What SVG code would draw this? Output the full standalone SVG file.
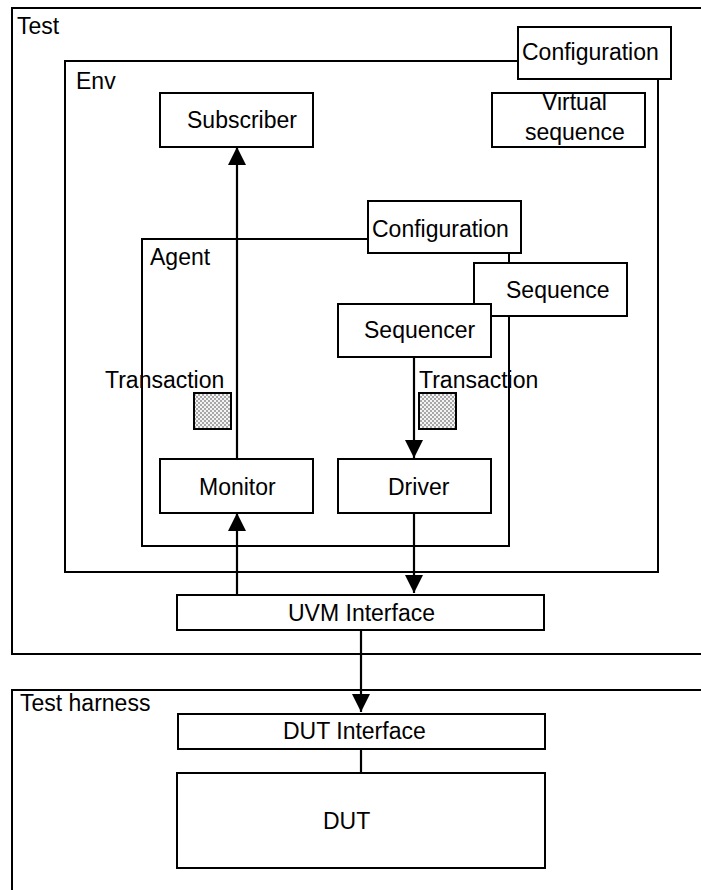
<svg xmlns="http://www.w3.org/2000/svg" width="701" height="890" viewBox="0 0 701 890">
<style>
  .box { fill: #fff; stroke: #000; stroke-width: 2; }
  .frame { fill: none; stroke: #000; stroke-width: 2; }
  .t { font-family: "Liberation Sans", Arial, sans-serif; font-size: 23px; fill: #000; }
  .conn { stroke: #000; stroke-width: 2.2; fill: none; }
  .arr { stroke: #000; stroke-width: 2.2; fill: none; marker-end: url(#ah); }
  .txn { fill: url(#dots); stroke: #000; stroke-width: 2; }
</style>
<defs>
  <marker id="ah" markerUnits="userSpaceOnUse" markerWidth="20" markerHeight="20" viewBox="0 0 20 20" refX="18" refY="10" orient="auto">
    <path d="M0,1 L18,10 L0,19 Z" fill="#000"/>
  </marker>
  <pattern id="dots" patternUnits="userSpaceOnUse" width="4" height="4">
    <rect width="4" height="4" fill="#f4f4f4"/>
    <circle cx="1" cy="1" r="0.8" fill="#444"/>
    <circle cx="3" cy="3" r="0.8" fill="#444"/>
  </pattern>
</defs>

<g id="test">
  <rect class="frame" x="12" y="8" width="710" height="646"/>
  <text class="t" x="17" y="34">Test</text>
</g>
<g id="test-harness">
  <rect class="frame" x="12" y="690" width="710" height="220"/>
  <text class="t" x="20" y="711">Test harness</text>
</g>
<g id="env">
  <rect class="frame" x="65" y="61" width="593" height="511"/>
  <text class="t" x="76" y="89">Env</text>
</g>
<g id="agent">
  <rect class="frame" x="142" y="239" width="367" height="307"/>
  <text class="t" x="150" y="265">Agent</text>
</g>

<g id="configuration-test">
  <rect class="box" x="518" y="27" width="153" height="52"/>
  <text class="t" x="522" y="60">Configuration</text>
</g>
<g id="subscriber">
  <rect class="box" x="160" y="93" width="153" height="54"/>
  <text class="t" x="187" y="128">Subscriber</text>
</g>
<g id="virtual-sequence">
  <rect class="box" x="492" y="93" width="153" height="54"/>
  <text class="t" x="542" y="110">Virtual</text>
  <text class="t" x="525" y="140">sequence</text>
</g>
<g id="configuration-agent">
  <rect class="box" x="368" y="201" width="153" height="52"/>
  <text class="t" x="372" y="237">Configuration</text>
</g>
<g id="sequence">
  <rect class="box" x="474" y="263" width="153" height="53"/>
  <text class="t" x="506" y="298">Sequence</text>
</g>
<g id="sequencer">
  <rect class="box" x="338" y="304" width="153" height="53"/>
  <text class="t" x="364" y="338">Sequencer</text>
</g>
<g id="transaction-monitor">
  <text class="t" x="105" y="388">Transaction</text>
  <rect class="txn" x="194" y="393" width="37" height="36"/>
</g>
<g id="transaction-driver">
  <text class="t" x="419" y="388">Transaction</text>
  <rect class="txn" x="419" y="393" width="37" height="36"/>
</g>
<g id="monitor">
  <rect class="box" x="160" y="459" width="153" height="54"/>
  <text class="t" x="199" y="495">Monitor</text>
</g>
<g id="driver">
  <rect class="box" x="338" y="459" width="153" height="54"/>
  <text class="t" x="388" y="495">Driver</text>
</g>
<g id="uvm-interface">
  <rect class="box" x="177" y="595" width="367" height="35"/>
  <text class="t" x="288" y="621">UVM Interface</text>
</g>
<g id="dut-interface">
  <rect class="box" x="178" y="714" width="367" height="35"/>
  <text class="t" x="283" y="739">DUT Interface</text>
</g>
<g id="dut">
  <rect class="box" x="177" y="773" width="368" height="95"/>
  <text class="t" x="323" y="829">DUT</text>
</g>

<g id="connectors">
  <line class="arr" x1="237" y1="459" x2="237" y2="147"/>
  <line class="arr" x1="414" y1="357" x2="414" y2="458"/>
  <line class="arr" x1="237" y1="595" x2="237" y2="513"/>
  <line class="arr" x1="414" y1="513" x2="414" y2="593"/>
  <line class="arr" x1="361" y1="630" x2="361" y2="712"/>
  <line class="conn" x1="361" y1="749" x2="361" y2="773"/>
</g>
</svg>
